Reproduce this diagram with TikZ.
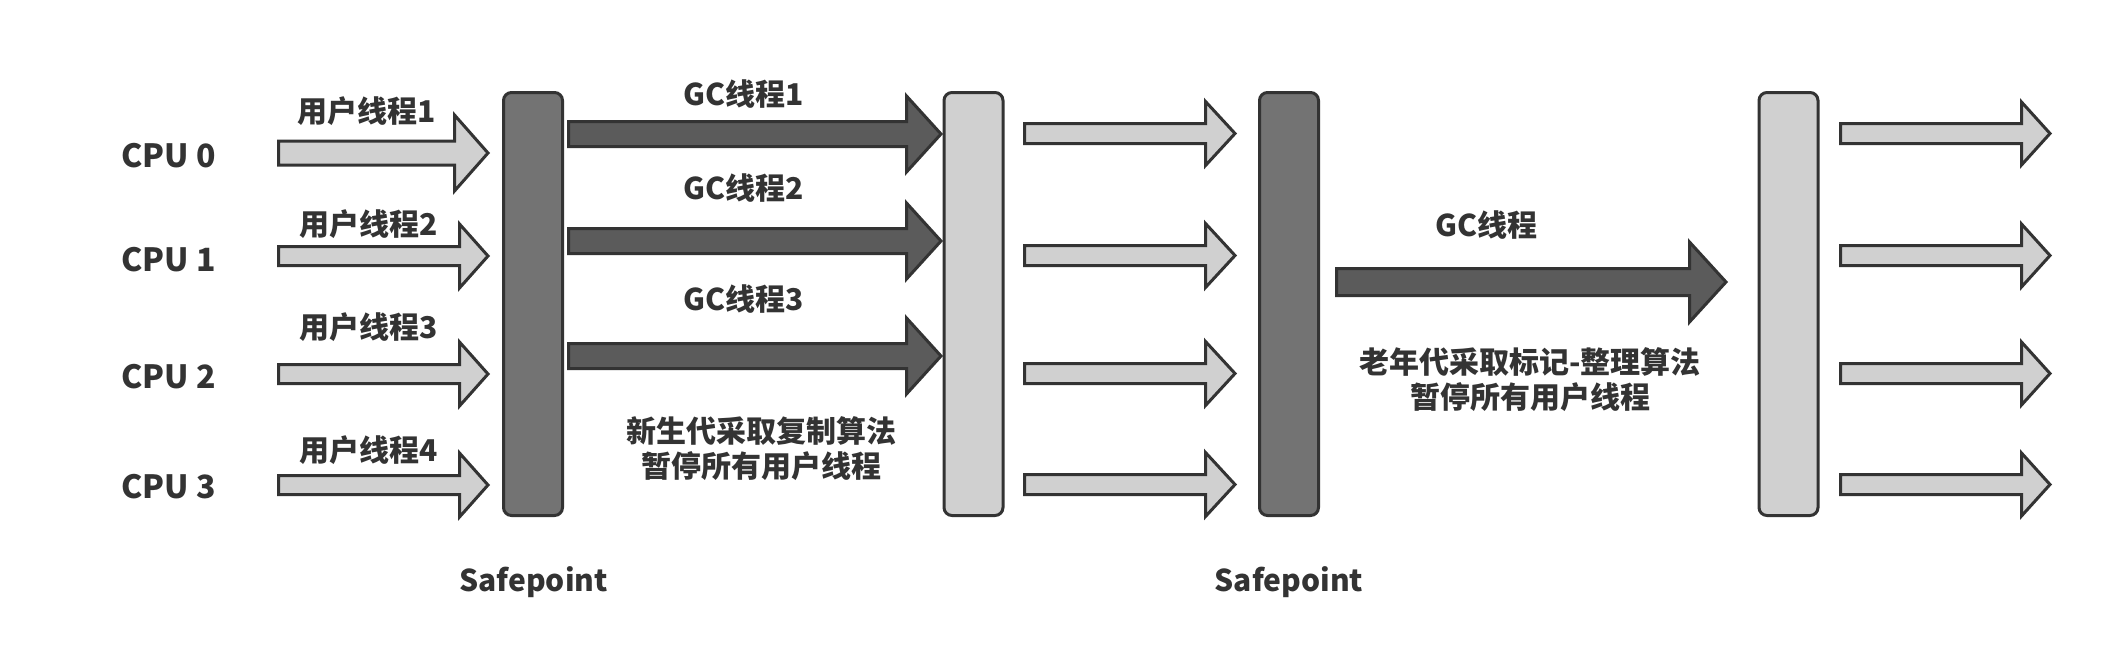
\documentclass[tikz,border=0pt]{standalone}
\usepackage{fontspec}
\setmainfont{Noto Sans CJK SC}
\usetikzlibrary{calc}
\definecolor{edge}{HTML}{333333}
\definecolor{darkbar}{HTML}{737373}
\definecolor{darkarrowfill}{HTML}{5B5B5B}
\definecolor{lightfill}{HTML}{D0D0D0}
\definecolor{txt}{HTML}{333333}
\newcommand\blockarrow[6]{%
  \path[#1] let \p1=(#2), \p2=(#3) in
    (\x1,{\y1+#4pt}) -- ({\x2-#6pt},{\y1+#4pt}) -- ({\x2-#6pt},{\y1+#5pt}) --
    (\x2,\y1) -- ({\x2-#6pt},{\y1-#5pt}) -- ({\x2-#6pt},{\y1-#4pt}) --
    (\x1,{\y1-#4pt}) -- cycle;}
\tikzset{
  edgeline/.style={draw=edge, line width=3pt, line join=miter},
  darkbarbox/.style={edgeline, fill=darkbar, rounded corners=8pt, minimum width=59pt, minimum height=423pt, inner sep=0pt},
  lightbarbox/.style={darkbarbox, fill=lightfill},
  lightarrow/.style={edgeline, fill=lightfill},
  darkarrow/.style={edgeline, fill=darkarrowfill},
  lbl/.style={text=txt, font=\fontsize{30}{35}\selectfont\bfseries, inner sep=0pt, align=center},
  cpulbl/.style={text=txt, font=\fontsize{32}{38}\selectfont\bfseries, inner sep=0pt},
}
\begin{document}
\begin{tikzpicture}[x=1pt, y=-1pt]
\fill[white] (0,0) rectangle (2101,667);
\useasboundingbox (0,0) rectangle (2101,667);

% bars
\node[darkbarbox]  (sp1) at (533,304) {};
\node[lightbarbox] (b2)  at (973.5,304) {};
\node[darkbarbox]  (sp2) at (1289,304) {};
\node[lightbarbox] (b4)  at (1788.5,304) {};

% CPU labels
\node[cpulbl] (cpu0) at (168.5,156) {CPU 0};
\node[cpulbl] (cpu1) at (168.5,259.5) {CPU 1};
\node[cpulbl] (cpu2) at (168.5,377) {CPU 2};
\node[cpulbl] (cpu3) at (168.5,487) {CPU 3};

% user thread arrows
\coordinate (u1s) at (278.5,153); \coordinate (u1e) at (488,153);
\coordinate (u2s) at (278.5,256); \coordinate (u2e) at (488,256);
\coordinate (u3s) at (278.5,374); \coordinate (u3e) at (488,374);
\coordinate (u4s) at (278.5,485); \coordinate (u4e) at (488,485);
\blockarrow{lightarrow}{u1s}{u1e}{12}{38}{33.5}
\blockarrow{lightarrow}{u2s}{u2e}{9.5}{32}{28.5}
\blockarrow{lightarrow}{u3s}{u3e}{9.5}{32}{28.5}
\blockarrow{lightarrow}{u4s}{u4e}{9.5}{32}{28.5}
\node[lbl] (ul1) at (366.5,111) {用户线程1};
\node[lbl] (ul2) at (368.5,224) {用户线程2};
\node[lbl] (ul3) at (368.5,327) {用户线程3};
\node[lbl] (ul4) at (368.5,450) {用户线程4};

% GC thread arrows (young gen)
\coordinate (g1s) at (568.5,134); \coordinate (g1e) at (941,134);
\coordinate (g2s) at (568.5,241); \coordinate (g2e) at (941,241);
\coordinate (g3s) at (568.5,356); \coordinate (g3e) at (941,356);
\blockarrow{darkarrow}{g1s}{g1e}{12.5}{38}{34.5}
\blockarrow{darkarrow}{g2s}{g2e}{12.5}{38}{34.5}
\blockarrow{darkarrow}{g3s}{g3e}{12.5}{38}{34.5}
\node[lbl] (gl1) at (743.5,94) {GC线程1};
\node[lbl] (gl2) at (744,188) {GC线程2};
\node[lbl] (gl3) at (744,299) {GC线程3};
\node[lbl] (young) at (761.5,449) {新生代采取复制算法\\暂停所有用户线程};

% middle user arrows
\coordinate (m1s) at (1024.5,133.5); \coordinate (m1e) at (1235,133.5);
\coordinate (m2s) at (1024.5,255.5); \coordinate (m2e) at (1235,255.5);
\coordinate (m3s) at (1024.5,373.5); \coordinate (m3e) at (1235,373.5);
\coordinate (m4s) at (1024.5,484.5); \coordinate (m4e) at (1235,484.5);
\blockarrow{lightarrow}{m1s}{m1e}{10}{32}{29.5}
\blockarrow{lightarrow}{m2s}{m2e}{10}{32}{29.5}
\blockarrow{lightarrow}{m3s}{m3e}{10}{32}{29.5}
\blockarrow{lightarrow}{m4s}{m4e}{10}{32}{29.5}

% GC thread (old gen)
\coordinate (ogs) at (1336.5,282); \coordinate (oge) at (1726,282);
\blockarrow{darkarrow}{ogs}{oge}{13.5}{40}{36.5}
\node[lbl] (ogl) at (1486,225) {GC线程};
\node[lbl] (old) at (1530,380) {老年代采取标记-整理算法\\暂停所有用户线程};

% final user arrows
\coordinate (f1s) at (1840.5,133.5); \coordinate (f1e) at (2050,133.5);
\coordinate (f2s) at (1840.5,255.5); \coordinate (f2e) at (2050,255.5);
\coordinate (f3s) at (1840.5,373.5); \coordinate (f3e) at (2050,373.5);
\coordinate (f4s) at (1840.5,484.5); \coordinate (f4e) at (2050,484.5);
\blockarrow{lightarrow}{f1s}{f1e}{10}{31.5}{28.5}
\blockarrow{lightarrow}{f2s}{f2e}{10}{31.5}{28.5}
\blockarrow{lightarrow}{f3s}{f3e}{10}{31.5}{28.5}
\blockarrow{lightarrow}{f4s}{f4e}{10}{31.5}{28.5}

% safepoint labels
\node[lbl] (spl1) at (533.5,582.5) {Safepoint};
\node[lbl] (spl2) at (1289,582.5) {Safepoint};
\end{tikzpicture}
\end{document}
